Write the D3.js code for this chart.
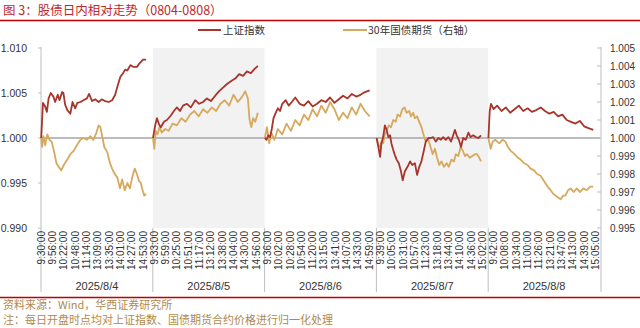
<!DOCTYPE html>
<html><head><meta charset="utf-8">
<script src="https://cdn.jsdelivr.net/npm/d3@7"></script>
<style>
html,body{margin:0;padding:0;background:#fff;}
svg{display:block;font-family:"Liberation Sans",Arial,"Noto Sans CJK SC",sans-serif;}
.cjk{font-family:"Noto Sans CJK SC","Liberation Sans",sans-serif;}
</style></head>
<body>
<svg id="c" width="640" height="328"></svg>
<script>
// ---------- data ----------
const dates = ["2025/8/4","2025/8/5","2025/8/6","2025/8/7","2025/8/8"];
const shadedDays = [1,3];
const pointsPerDay = 257; // 9:30-11:30, 13:00-15:15 (1-min)
const tickEvery = 26;
const tickLabels = [
"9:30:00","9:56:00","10:22:00","10:48:00","11:14:00","13:09:00","13:35:00","14:01:00","14:27:00","14:53:00",
"9:33:00","9:59:00","10:25:00","10:51:00","11:17:00","13:12:00","13:38:00","14:04:00","14:30:00","14:56:00",
"9:36:00","10:02:00","10:28:00","10:54:00","11:20:00","13:15:00","13:41:00","14:07:00","14:33:00","14:59:00",
"9:39:00","10:05:00","10:31:00","10:57:00","11:23:00","13:18:00","13:44:00","14:10:00","14:36:00","15:02:00",
"9:42:00","10:08:00","10:34:00","11:00:00","11:26:00","13:21:00","13:47:00","14:13:00","14:39:00","15:05:00"];
const leftTicks = [0.990,0.995,1.000,1.005,1.010];
const rightTicks = [0.995,0.996,0.997,0.998,0.999,1.000,1.001,1.002,1.003,1.004,1.005];

// [minute index within day, normalized value]
const sh0804 = [[0,1.0000],[2,1.0020],[4,1.0039],[9,1.0035],[13,1.0029],[17,1.0044],[22,1.0050],[28,1.0046],[32,1.0040],[38,1.0048],[42,1.0042],[48,1.0051],[51,1.0050],[55,1.0037],[60,1.0031],[67,1.0027],[72,1.0040],[78,1.0033],[83,1.0039],[90,1.0040],[97,1.0042],[105,1.0044],[110,1.0049],[117,1.0041],[124,1.0043],[132,1.0040],[139,1.0043],[147,1.0041],[155,1.0040],[163,1.0042],[170,1.0048],[175,1.0057],[182,1.0068],[188,1.0072],[193,1.0076],[198,1.0075],[205,1.0081],[212,1.0079],[220,1.0079],[226,1.0083],[234,1.0087],[241,1.0087]];
const sh0805 = [[0,1.0000],[5,1.0014],[9,1.0022],[14,1.0015],[18,1.0012],[25,1.0018],[32,1.0020],[41,1.0025],[48,1.0030],[55,1.0034],[62,1.0030],[69,1.0036],[78,1.0038],[87,1.0034],[97,1.0042],[106,1.0038],[115,1.0040],[124,1.0044],[133,1.0041],[143,1.0047],[152,1.0052],[161,1.0056],[170,1.0060],[179,1.0063],[189,1.0066],[198,1.0071],[207,1.0069],[216,1.0074],[225,1.0072],[234,1.0077],[241,1.0080]];
const sh0806 = [[0,1.0000],[4,0.9998],[8,1.0003],[12,1.0001],[16,1.0010],[20,1.0022],[25,1.0028],[30,1.0033],[35,1.0030],[40,1.0038],[48,1.0042],[55,1.0036],[62,1.0040],[70,1.0045],[80,1.0038],[90,1.0036],[100,1.0041],[110,1.0035],[120,1.0038],[130,1.0042],[140,1.0040],[150,1.0045],[160,1.0039],[170,1.0043],[180,1.0047],[190,1.0044],[200,1.0049],[210,1.0046],[220,1.0048],[230,1.0051],[241,1.0053]];
const sh0807 = [[0,1.0000],[4,0.9990],[8,0.9979],[11,0.9994],[15,1.0001],[19,1.0014],[23,1.0009],[27,1.0001],[31,1.0003],[34,0.9994],[38,0.9987],[42,0.9981],[46,0.9976],[51,0.9972],[56,0.9963],[60,0.9953],[65,0.9963],[71,0.9968],[77,0.9974],[82,0.9970],[88,0.9972],[93,0.9959],[98,0.9968],[103,0.9974],[109,0.9987],[113,0.9996],[119,1.0000],[124,1.0000],[130,1.0001],[136,0.9996],[142,1.0000],[148,0.9998],[153,1.0001],[159,0.9998],[165,1.0001],[171,0.9996],[176,1.0003],[180,1.0009],[184,1.0003],[189,0.9998],[194,0.9990],[199,1.0000],[205,0.9998],[211,1.0006],[216,1.0001],[222,1.0003],[228,1.0001],[234,1.0000],[240,1.0003]];
const sh0808 = [[0,1.0000],[3,1.0030],[6,1.0038],[12,1.0032],[20,1.0036],[30,1.0030],[40,1.0034],[50,1.0028],[60,1.0032],[70,1.0036],[80,1.0030],[90,1.0033],[100,1.0029],[110,1.0031],[120,1.0034],[130,1.0030],[140,1.0027],[150,1.0029],[160,1.0024],[170,1.0026],[180,1.0020],[190,1.0018],[200,1.0016],[210,1.0019],[220,1.0013],[230,1.0011],[241,1.0009]];

const tf0804 = [[0,1.0000],[2,0.9995],[5,1.0001],[9,0.9996],[14,1.0002],[19,0.9999],[24,0.9998],[30,0.9992],[35,0.9986],[40,0.9984],[46,0.9982],[52,0.9985],[60,0.9988],[67,0.9991],[75,0.9993],[82,0.9996],[90,0.9999],[97,1.0000],[105,0.9999],[113,1.0001],[120,0.9999],[127,1.0003],[132,1.0007],[136,1.0006],[141,1.0000],[145,0.9995],[152,0.9992],[158,0.9986],[163,0.9983],[169,0.9980],[175,0.9978],[181,0.9972],[186,0.9977],[192,0.9971],[198,0.9975],[204,0.9972],[209,0.9978],[215,0.9983],[220,0.9980],[225,0.9976],[229,0.9975],[233,0.9971],[237,0.9968],[241,0.9969]];
const tf0805 = [[0,1.0000],[3,0.9994],[6,1.0004],[10,1.0002],[15,1.0006],[20,1.0003],[28,1.0005],[36,1.0004],[45,1.0008],[55,1.0007],[65,1.0011],[75,1.0009],[85,1.0013],[95,1.0015],[105,1.0012],[115,1.0016],[125,1.0014],[135,1.0017],[145,1.0015],[155,1.0019],[165,1.0021],[175,1.0018],[185,1.0024],[195,1.0020],[205,1.0023],[212,1.0026],[218,1.0022],[222,1.0010],[226,1.0006],[230,1.0011],[235,1.0009],[241,1.0014]];
const tf0806 = [[0,1.0000],[5,1.0006],[10,0.9997],[15,1.0003],[22,0.9999],[30,1.0005],[40,1.0002],[50,1.0008],[60,1.0004],[70,1.0010],[80,1.0007],[90,1.0013],[100,1.0010],[110,1.0016],[120,1.0012],[130,1.0018],[140,1.0014],[150,1.0020],[160,1.0016],[170,1.0010],[180,1.0014],[190,1.0011],[200,1.0017],[210,1.0013],[220,1.0019],[230,1.0015],[241,1.0012]];
const tf0807 = [[0,1.0000],[4,0.9996],[8,0.9995],[11,0.9998],[15,0.9997],[19,1.0002],[23,1.0004],[28,1.0007],[33,1.0006],[38,1.0010],[44,1.0009],[48,1.0013],[54,1.0012],[59,1.0016],[64,1.0017],[69,1.0014],[75,1.0015],[79,1.0012],[84,1.0014],[88,1.0011],[93,1.0012],[98,1.0009],[103,1.0006],[109,1.0001],[113,0.9998],[119,0.9999],[124,0.9995],[129,0.9991],[134,0.9994],[139,0.9989],[144,0.9985],[149,0.9987],[155,0.9984],[161,0.9986],[166,0.9984],[172,0.9988],[178,0.9987],[182,0.9991],[188,0.9990],[193,0.9995],[198,0.9993],[203,0.9990],[208,0.9991],[214,0.9989],[220,0.9990],[226,0.9991],[231,0.9991],[236,0.9989],[240,0.9987]];
const tf0808 = [[0,1.0000],[5,0.9994],[10,0.9998],[16,0.9999],[25,0.9997],[32,0.9999],[39,0.9998],[45,0.9995],[51,0.9993],[60,0.9991],[68,0.9989],[74,0.9988],[82,0.9986],[90,0.9985],[97,0.9983],[105,0.9982],[112,0.9980],[120,0.9979],[128,0.9976],[136,0.9973],[143,0.9971],[149,0.9969],[154,0.9968],[160,0.9967],[166,0.9966],[172,0.9968],[177,0.9968],[183,0.9971],[189,0.9972],[196,0.9970],[203,0.9972],[211,0.9970],[218,0.9972],[226,0.9971],[234,0.9973],[241,0.9973]];

const shDays = [sh0804,sh0805,sh0806,sh0807,sh0808];
const tfDays = [tf0804,tf0805,tf0806,tf0807,tf0808];

// ---------- drawing ----------
const svg = d3.select("#c");
const plotL = 41, plotR = 600, plotT = 48, plotB = 228, sepB = 292;
const nTotal = pointsPerDay*dates.length;
const x = d3.scaleLinear().domain([-0.5, nTotal-0.5]).range([plotL, plotR]);
const yL = d3.scaleLinear().domain([0.990,1.010]).range([plotB, plotT]);
const yR = d3.scaleLinear().domain([0.995,1.005]).range([plotB, plotT]);

const RED = "#a8352b", GOLD = "#d6a95c", TXT = "#333";

// title
svg.append("text").attr("class","cjk").attr("x",3).attr("y",15)
  .attr("font-size",12.5).attr("fill","#c0282d").text("图 3：股债日内相对走势（0804-0808）");
svg.append("line").attr("x1",0).attr("x2",640).attr("y1",20.5).attr("y2",20.5)
  .attr("stroke","#c00000").attr("stroke-width",1.6);

// shading
svg.selectAll("rect.shade").data(shadedDays).join("rect").attr("class","shade")
  .attr("x",d=>x(d*pointsPerDay-0.5)).attr("width",d=>x((d+1)*pointsPerDay-0.5)-x(d*pointsPerDay-0.5))
  .attr("y",plotT).attr("height",plotB-plotT).attr("fill","#f2f2f2");

// legend
const lg = svg.append("g");
lg.append("line").attr("x1",198).attr("x2",221).attr("y1",30).attr("y2",30).attr("stroke",RED).attr("stroke-width",2);
lg.append("text").attr("class","cjk").attr("x",223).attr("y",34).attr("font-size",10.5).attr("fill",TXT).text("上证指数");
lg.append("line").attr("x1",343).attr("x2",367).attr("y1",30).attr("y2",30).attr("stroke",GOLD).attr("stroke-width",2);
lg.append("text").attr("class","cjk").attr("x",368).attr("y",34).attr("font-size",10.5).attr("fill",TXT).text("30年国债期货（右轴）");

// baseline 1.000
svg.append("line").attr("x1",plotL).attr("x2",plotR).attr("y1",yL(1)).attr("y2",yL(1))
  .attr("stroke","#a6a6a6").attr("stroke-width",1.5);

// axes lines
svg.append("line").attr("x1",plotL).attr("x2",plotL).attr("y1",plotT-1).attr("y2",sepB).attr("stroke","#bfbfbf");
svg.append("line").attr("x1",plotR+1).attr("x2",plotR+1).attr("y1",plotT-1).attr("y2",sepB).attr("stroke","#bfbfbf");
// day separators
const seps = d3.range(1, dates.length);
svg.selectAll("line.sep").data(seps).join("line").attr("class","sep")
  .attr("x1",d=>x(d*pointsPerDay-0.5)).attr("x2",d=>x(d*pointsPerDay-0.5))
  .attr("y1",plotB).attr("y2",sepB).attr("stroke","#bfbfbf");

// left ticks
const gl = svg.append("g");
gl.selectAll("line").data(leftTicks).join("line")
  .attr("x1",plotL-3).attr("x2",plotL).attr("y1",d=>yL(d)).attr("y2",d=>yL(d)).attr("stroke","#bfbfbf");
gl.selectAll("text").data(leftTicks).join("text")
  .attr("x",27).attr("y",d=>yL(d)+3.5).attr("text-anchor","end").attr("font-size",10.5).attr("fill",TXT)
  .text(d=>d3.format(".3f")(d));
// right ticks
const gr = svg.append("g");
gr.selectAll("line").data(rightTicks).join("line")
  .attr("x1",plotR-3).attr("x2",plotR+1).attr("y1",d=>yR(d)).attr("y2",d=>yR(d)).attr("stroke","#bfbfbf");
gr.selectAll("text").data(rightTicks).join("text")
  .attr("x",610).attr("y",d=>yR(d)+3.5).attr("font-size",10).attr("fill",TXT)
  .text(d=>d3.format(".3f")(d));

// x tick labels
svg.append("g").selectAll("text").data(tickLabels).join("text")
  .attr("transform",(d,i)=>`translate(${x(i*tickEvery)+3.5},231) rotate(-90)`)
  .attr("text-anchor","end").attr("font-size",10).attr("fill",TXT).text(d=>d);

// date labels
svg.append("g").selectAll("text").data(dates).join("text")
  .attr("x",(d,i)=>x(i*pointsPerDay + pointsPerDay/2 - 0.5)).attr("y",290)
  .attr("text-anchor","middle").attr("font-size",11).attr("fill",TXT).text(d=>d);

// series
const lineL = d3.line().x(d=>x(d[2]+d[0])).y(d=>yL(d[1]));
const lineR = d3.line().x(d=>x(d[2]+d[0])).y(d=>yR(d[1]));
tfDays.forEach((arr,k)=>{
  svg.append("path").datum(arr.map(p=>[p[0],p[1],k*pointsPerDay]))
    .attr("d",lineR).attr("fill","none").attr("stroke",GOLD).attr("stroke-width",1.8).attr("stroke-linejoin","round");
});
shDays.forEach((arr,k)=>{
  svg.append("path").datum(arr.map(p=>[p[0],p[1],k*pointsPerDay]))
    .attr("d",lineL).attr("fill","none").attr("stroke",RED).attr("stroke-width",1.8).attr("stroke-linejoin","round");
});

// bottom rule and footer
svg.append("line").attr("x1",0).attr("x2",640).attr("y1",297.5).attr("y2",297.5)
  .attr("stroke","#c00000").attr("stroke-width",1.4);
svg.append("text").attr("class","cjk").attr("x",3).attr("y",309).attr("font-size",11).attr("fill","#b0894f")
  .text("资料来源：Wind，华西证券研究所");
svg.append("text").attr("class","cjk").attr("x",3).attr("y",324).attr("font-size",11).attr("fill","#b0894f")
  .text("注：每日开盘时点均对上证指数、国债期货合约价格进行归一化处理");
</script>
</body></html>
